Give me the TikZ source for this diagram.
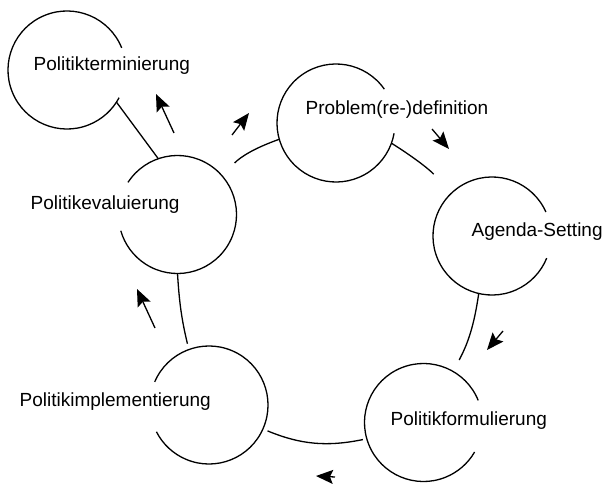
\documentclass[tikz,border=0pt]{standalone}
\usepackage{fontspec}
\setmainfont{Liberation Sans}
\usetikzlibrary{arrows.meta}

\begin{document}
\begin{tikzpicture}[x=1pt, y=-1pt, line width=1.3pt,
	phase/.style={circle, minimum size=118pt, inner sep=0pt, outer sep=0pt},
	phasename/.style={anchor=base west, inner sep=0pt, font=\fontsize{19}{22}\selectfont},
	cue/.style={-{Stealth[length=17pt, width=14pt, inset=3pt]}}]
	\useasboundingbox (0,0) rectangle (611,484);

	\node[phase] (term) at (67,70) {};
	\node[phase] (eval) at (177.5,214.5) {};
	\node[phase] (prob) at (336,123) {};
	\node[phase] (agenda) at (492,236) {};
	\node[phase] (form) at (423.5,422.5) {};
	\node[phase] (impl) at (209,405) {};

	\draw (term.22) arc[start angle=22, end angle=332, radius=59pt];
	\draw (eval.147) arc[start angle=147, end angle=-164, radius=59pt];
	\draw (prob.35) arc[start angle=35, end angle=350, radius=59pt];
	\draw (agenda.24) arc[start angle=24, end angle=338, radius=59pt];
	\draw (form.22) arc[start angle=22, end angle=330, radius=59pt];
	\draw (impl.157) arc[start angle=157, end angle=-153, radius=59pt];

	\node[phasename] (termname) at (33,71) {Politikterminierung};
	\node[phasename] (evalname) at (30,210) {Politikevaluierung};
	\node[phasename] (probname) at (305,115) {Problem(re-)definition};
	\node[phasename] (agendaname) at (471,236.5) {Agenda-Setting};
	\node[phasename] (formname) at (390,425) {Politikformulierung};
	\node[phasename] (implname) at (19,406.5) {Politikimplementierung};

	\draw
		(eval.41) edge[bend left=13, shorten <=18pt] (prob.196)
		(prob.-20) edge[bend left=8, shorten >=26pt] (agenda.134)
		(agenda.257) edge[bend left=10, shorten >=13pt] (form.60)
		(form.196) edge[bend left=17, shorten <=4pt, shorten >=5pt] (impl.-24)
		(impl.110) edge[bend left=5, shorten <=6pt] (eval.270)
		(eval.109) edge (term.-33)
		;

	\coordinate (termfrom) at (174,133);
	\coordinate (termto) at (156,94);
	\coordinate (probfrom) at (232,135);
	\coordinate (probto) at (249,113);
	\coordinate (agendafrom) at (432,129);
	\coordinate (agendato) at (449,149);
	\coordinate (formfrom) at (503,331);
	\coordinate (formto) at (487,350);
	\coordinate (implfrom) at (335,477);
	\coordinate (implto) at (316,476);
	\coordinate (evalfrom) at (155,328);
	\coordinate (evalto) at (137,289);

	\draw[cue] (termfrom) -- (termto);
	\draw[cue] (probfrom) -- (probto);
	\draw[cue] (agendafrom) -- (agendato);
	\draw[cue] (formfrom) -- (formto);
	\draw[cue] (implfrom) -- (implto);
	\draw[cue] (evalfrom) -- (evalto);
\end{tikzpicture}
\end{document}
